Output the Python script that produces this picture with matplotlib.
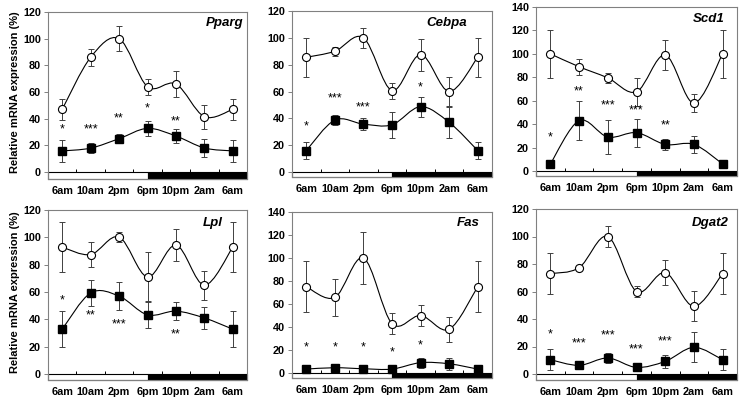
import numpy as np
import matplotlib
matplotlib.use("Agg")
import matplotlib.pyplot as plt
from matplotlib.path import Path
from matplotlib.patches import PathPatch, Rectangle

plt.rcParams['font.family'] = ['Liberation Sans', 'DejaVu Sans']

#------ DONNEES -------------------------------------#
times = ["6am", "10am", "2pm", "6pm", "10pm", "2am", "6am"]
genes = ["Pparg", "Cebpa", "Scd1", "Lpl", "Fas", "Dgat2"]

pparg_wt  = [47, 86, 100, 64, 66, 41.5, 47]
pparg_wte = [8, 6.5, 9.5, 6, 9.5, 9, 8]
pparg_ko  = [15.8, 17.9, 25, 32.7, 27, 18, 15.8]
pparg_koe = [8.3, 4, 3.5, 5.7, 5.5, 6.7, 8.3]
pparg_sig = ["*", "***", "**", "*", "**", "", ""]
pparg_sigy = [32, 32, 40, 48, 38, 0, 0]

cebpa_wt  = [85.5, 90, 100, 60.7, 87.5, 60, 85.5]
cebpa_wte = [14.5, 3.5, 7.5, 6, 12, 11, 14.5]
cebpa_ko  = [16, 38.7, 35.7, 35.2, 48.7, 37, 16]
cebpa_koe = [6.5, 4, 4.5, 9.5, 7.5, 11.5, 6.5]
cebpa_sig = ["*", "***", "***", "", "*", "", ""]
cebpa_sigy = [34, 54.5, 48, 0, 63, 0, 0]

scd1_wt  = [100, 89, 79.5, 67.6, 99, 58, 100]
scd1_wte = [20.5, 7, 4.3, 12, 12.5, 7.4, 20.5]
scd1_ko  = [6, 43, 29, 32.7, 22.7, 22.7, 6]
scd1_koe = [1, 16.8, 14.6, 12, 5, 7.4, 1]
scd1_sig = ["*", "**", "***", "***", "**", "", ""]
scd1_sigy = [29, 68, 56, 51.5, 38.6, 0, 0]

lpl_wt  = [92.8, 87.4, 100.2, 71, 94.3, 65, 92.8]
lpl_wte = [18.4, 9, 3.7, 18, 11.7, 10.6, 18.4]
lpl_ko  = [32.8, 59.3, 57, 43.3, 46, 41, 32.8]
lpl_koe = [13, 9.3, 10, 10, 6.4, 8.2, 13]
lpl_sig = ["*", "**", "***", "", "**", "", ""]
lpl_sigy = [54, 43, 36, 0, 28.6, 0, 0]

fas_wt  = [75, 65.7, 100, 43, 50, 38, 75]
fas_wte = [22, 16, 22.5, 9.5, 9.5, 11, 22]
fas_ko  = [3.4, 4.6, 3.7, 3.4, 9, 8, 3.4]
fas_koe = [1, 1, 1, 1, 4.3, 5, 1]
fas_sig = ["*", "*", "*", "*", "*", "", ""]
fas_sigy = [22, 22, 22, 18, 23.7, 0, 0]

dgat2_wt  = [73, 77.3, 100, 60, 73.7, 49.2, 73]
dgat2_wte = [14.8, 1.5, 7.5, 3.9, 9, 11, 14.8]
dgat2_ko  = [10.4, 6.3, 11.6, 4.8, 9.2, 19.4, 10.4]
dgat2_koe = [7.5, 1, 3.6, 1.5, 4.8, 11, 7.5]
dgat2_sig = ["*", "***", "***", "***", "***", "", ""]
dgat2_sigy = [29, 22, 28, 17.7, 24, 0, 0]

ymax = [120, 120, 140, 120, 140, 120]
#----------------------------------------------------#

series = [
    (pparg_wt, pparg_wte, pparg_ko, pparg_koe, pparg_sig, pparg_sigy),
    (cebpa_wt, cebpa_wte, cebpa_ko, cebpa_koe, cebpa_sig, cebpa_sigy),
    (scd1_wt, scd1_wte, scd1_ko, scd1_koe, scd1_sig, scd1_sigy),
    (lpl_wt, lpl_wte, lpl_ko, lpl_koe, lpl_sig, lpl_sigy),
    (fas_wt, fas_wte, fas_ko, fas_koe, fas_sig, fas_sigy),
    (dgat2_wt, dgat2_wte, dgat2_ko, dgat2_koe, dgat2_sig, dgat2_sigy),
]

# cadres en pixels : gauche, droite, haut, zero, bas ; position du nom (px)
W, H = 741, 400
cadres = [(48, 247, 12, 172, 179), (292, 492, 11, 172, 177), (536, 737, 7, 171, 176),
          (48, 247, 210, 374, 380), (292, 492, 212, 373, 378), (536, 737, 209, 374, 380)]
noms = [(243, 23), (467, 23), (725, 19), (223, 223), (480, 223), (729, 223)]


def courbe_lisse(ax, x, y):
    # spline de type Excel (Catmull-Rom -> Bezier cubique)
    x = np.asarray(x, float)
    y = np.asarray(y, float)
    P = np.column_stack([x, y])
    n = len(P)
    verts = [P[0]]
    codes = [Path.MOVETO]
    for i in range(n - 1):
        p0 = P[max(i - 1, 0)]
        p1 = P[i]
        p2 = P[i + 1]
        p3 = P[min(i + 2, n - 1)]
        verts += [p1 + (p2 - p0) / 6.0, p2 - (p3 - p1) / 6.0, p2]
        codes += [Path.CURVE4] * 3
    ax.add_patch(PathPatch(Path(verts, codes), facecolor="none",
                           edgecolor="black", lw=0.8, zorder=2))


fig = plt.figure(figsize=(W / 100, H / 100), dpi=100)
x = np.arange(len(times))
gris = "#808080"

for k, gene in enumerate(genes):
    g, d, t, z, b = cadres[k]
    ax = fig.add_axes([g / W, 1 - b / H, (d - g) / W, (b - t) / H])
    ym = ymax[k]
    ymin = -(b - z) * ym / (z - t)
    ax.set_xlim(-0.5, len(times) - 0.5)
    ax.set_ylim(ymin, ym)

    wt, wte, ko, koe, sig, sigy = series[k]

    # barre jour / nuit
    ax.add_patch(Rectangle((-0.5, ymin), 3.5, -ymin, facecolor="white",
                           edgecolor="black", lw=0.8, zorder=1, clip_on=False))
    ax.add_patch(Rectangle((3, ymin), 3.5, -ymin, facecolor="black",
                           edgecolor="black", lw=0.8, zorder=1, clip_on=False))
    hauteur = 3 * ym / (z - t)
    ax.vlines(np.arange(0.5, 6, 1.0), 0, hauteur, color="black", lw=0.7, zorder=1)

    courbe_lisse(ax, x, wt)
    courbe_lisse(ax, x, ko)
    ax.errorbar(x, wt, yerr=wte, fmt="none", ecolor="#404040", elinewidth=0.7,
                capsize=2.5, capthick=0.7, zorder=3)
    ax.errorbar(x, ko, yerr=koe, fmt="none", ecolor="#404040", elinewidth=0.7,
                capsize=2.5, capthick=0.7, zorder=3)
    ax.plot(x, wt, "o", ms=5.8, mfc="white", mec="black", mew=0.8, ls="none", zorder=4)
    ax.plot(x, ko, "s", ms=5.8, mfc="black", mec="black", ls="none", zorder=4)

    for i, s in enumerate(sig):
        if s:
            ax.text(x[i], sigy[i], s, ha="center", va="center", fontsize=9, zorder=5)

    nx, ny = noms[k]
    fig.text(nx / W, 1 - ny / H, gene, ha="right", va="center", fontsize=9.5,
             fontweight="bold", fontstyle="italic")

    ax.set_xticks(x)
    ax.set_xticklabels(times, fontsize=7.8, fontweight="bold")
    ax.tick_params(axis="x", length=0, pad=5)
    ax.set_yticks(np.arange(0, ym + 1, 20))
    ax.tick_params(axis="y", length=3, width=0.7, color=gris, pad=2, labelsize=7.8)
    for lab in ax.get_yticklabels():
        lab.set_fontweight("bold")
    for sp in ax.spines.values():
        sp.set_color(gris)
        sp.set_linewidth(0.8)

    if k in (0, 3):
        ax.set_ylabel("Relative mRNA expression (%)", fontsize=8, fontweight="bold")
        ax.yaxis.set_label_coords(-28 / (d - g), (b - (t + z) / 2) / (b - t))

fig.savefig("out.png", dpi=100, facecolor="white")
